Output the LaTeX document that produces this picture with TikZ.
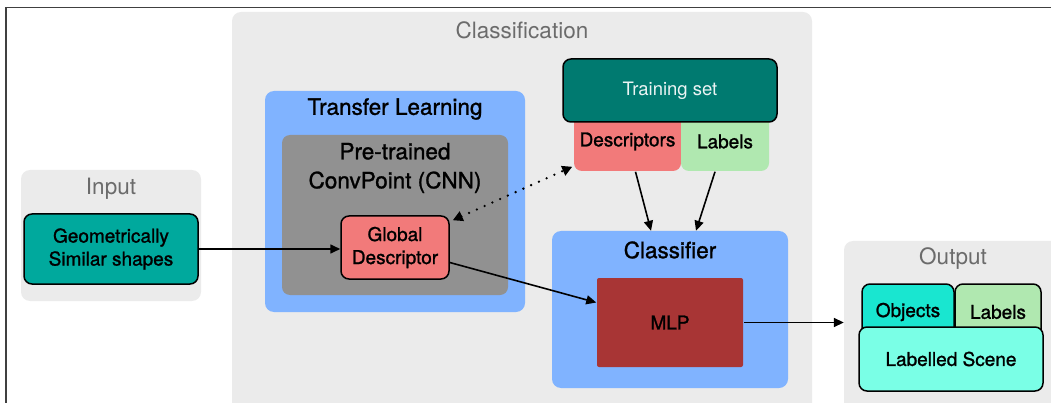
\documentclass[tikz,border=0pt]{standalone}
\usepackage{fontspec}
\setmainfont{TeX Gyre Heros}[BoldFont=TeX Gyre Heros, BoldFeatures={FakeBold=1.2}]
\usetikzlibrary{arrows.meta}

\definecolor{panelgray}{HTML}{EBEBEB}
\definecolor{titlegray}{HTML}{6B6B6B}
\definecolor{panelblue}{HTML}{80B3FF}
\definecolor{cnngray}{HTML}{919191}
\definecolor{inteal}{HTML}{00A99D}
\definecolor{darkteal}{HTML}{007A70}
\definecolor{salmon}{HTML}{F27A7A}
\definecolor{softgreen}{HTML}{B0E8B0}
\definecolor{brick}{HTML}{A83535}
\definecolor{objcyan}{HTML}{19E6D0}
\definecolor{scenecyan}{HTML}{7AFFE6}

\tikzset{
  panel/.style={fill=#1, rounded corners=9pt, inner sep=0pt},
  panel/.default=panelgray,
  title/.style={font=\fontsize{22.5}{29}\selectfont, text=titlegray, align=center},
  darktitle/.style={title, text=black, font=\fontsize{22.5}{29}\selectfont\bfseries},
  box/.style={draw=black, line width=1.5pt, rounded corners=8pt, align=center,
    font=\fontsize{19}{23}\selectfont\bfseries, inner sep=0pt},
  arr/.style={line width=1.6pt, -{Triangle[length=10pt,width=9pt]}},
  dotarr/.style={line width=2.6pt, line cap=round, dash pattern=on 0pt off 8.5pt,
    {Triangle[length=10pt,width=10pt]}-{Triangle[length=10pt,width=10pt]}},
}

\begin{document}
\begin{tikzpicture}[x=1pt,y=-1pt]
\useasboundingbox (0,0) rectangle (1051,403);
% frame
\draw[line width=1.2pt, color=black!75] (6,430) -- (6,7.5) -- (1060,7.5);

% classification
\node[panel, minimum width=580pt, minimum height=420pt] (cls) at (522,222) {};
\node[title] (clstitle) at (522,30) {Classification};

% input
\node[panel, minimum width=180pt, minimum height=131pt] (inpanel) at (111,235.5) {};
\node[title] (intitle) at (111,189) {Input};
\node[box, fill=inteal, minimum width=174pt, minimum height=70pt] (shapes) at (111,249) {Geometrically\\Similar shapes};

% transfer learning
\node[panel=panelblue, minimum width=260pt, minimum height=221pt] (transfer) at (395,201.5) {};
\node[darktitle] (trtitle) at (395,109) {Transfer Learning};
\node[panel=cnngray, rounded corners=8pt, minimum width=226pt, minimum height=160pt] (cnn) at (395,215) {};
\node[darktitle] (cnntitle) at (395,168) {Pre-trained\\ConvPoint (CNN)};
\node[box, fill=salmon, minimum width=108pt, minimum height=63pt] (gdesc) at (395,247.5) {Global\\Descriptor};

% training set
\node[box, draw=none, fill=salmon, minimum width=107pt, minimum height=59pt] (desc) at (627.5,141.5) {Descriptors};
\node[box, draw=none, fill=softgreen, minimum width=88pt, minimum height=59pt] (lab) at (725,141.5) {Labels};
\node[box, fill=darkteal, text=white!92!darkteal, font=\fontsize{18.5}{22}\selectfont,
  minimum width=214pt, minimum height=63pt] (train) at (670,90.5) {Training set};

% classifier
\node[panel=panelblue, minimum width=236pt, minimum height=157pt] (clf) at (670,309.5) {};
\node[darktitle] (clftitle) at (670,250) {Classifier};
\node[box, draw=none, fill=brick, rounded corners=2pt, minimum width=146pt, minimum height=89pt] (mlp) at (670,322.5) {MLP};

% output
\node[panel, minimum width=218pt, minimum height=189pt] (outpanel) at (953,335.5) {};
\node[title] (outtitle) at (953,259) {Output};
\node[box, fill=objcyan, minimum width=92pt, minimum height=56pt] (obj) at (908,312) {Objects};
\node[box, fill=softgreen, minimum width=86pt, minimum height=56pt] (outlab) at (998,312) {Labels};
\node[box, fill=scenecyan, minimum width=184pt, minimum height=64pt] (scene) at (951,359) {Labelled Scene};

% connectors
\draw[arr] (shapes.east) -- (shapes.east -| gdesc.west);
\draw[dotarr] ([shift={(3pt,-5pt)}]gdesc.north east) -- ([shift={(-1pt,5pt)}]desc.south west);
\draw[arr] ([xshift=8pt]desc.south) -- ([xshift=-19pt]clf.north);
\draw[arr] ([xshift=-10pt]lab.south) -- ([xshift=26pt]clf.north);
\draw[arr] ([yshift=-15pt]gdesc.east) -- ([yshift=20pt]mlp.west);
\draw[arr] (mlp.east) -- (mlp.east -| outpanel.west);
\end{tikzpicture}
\end{document}
